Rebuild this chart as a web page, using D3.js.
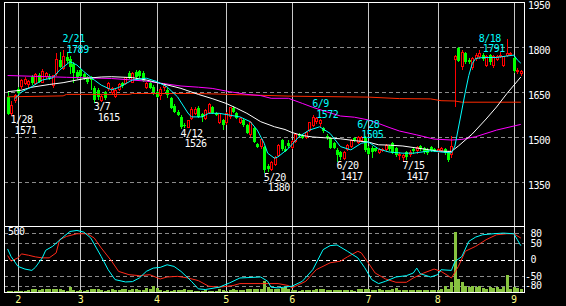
<!DOCTYPE html>
<html>
<head>
<meta charset="utf-8">
<script src="https://cdn.jsdelivr.net/npm/d3@7"></script>
<style>
body { margin: 0; background: #000; }
text { font-family: "DejaVu Sans Mono", monospace; font-size: 10px; letter-spacing: -0.5px; }
</style>
</head>
<body>
<div id="content"></div>
<script>
// daily candles [open, high, low, close], one per trading day
const ohlc = [
  [1634,1655,1575,1578],[1577,1620,1571,1604],[1622,1645,1615,1640],[1660,1668,1640,1648],[1668,1695,1660,1690],
  [1680,1700,1672,1693],[1675,1690,1665,1686],[1700,1708,1675,1680],[1678,1712,1672,1710],[1707,1712,1680,1684],
  [1683,1727,1680,1717],[1702,1718,1695,1713],[1703,1710,1690,1697],[1672,1708,1665,1706],[1713,1780,1705,1757],
  [1757,1784,1730,1734],[1730,1789,1725,1770],[1767,1785,1748,1752],[1760,1770,1710,1735],[1745,1750,1680,1715],
  [1718,1725,1695,1700],[1725,1730,1695,1705],[1710,1715,1690,1695],[1700,1705,1678,1685],[1700,1705,1657,1690],
  [1665,1670,1615,1622],[1657,1662,1625,1632],[1622,1640,1618,1635],[1650,1655,1625,1630],[1663,1683,1655,1680],
  [1650,1668,1640,1663],[1635,1660,1630,1655],[1660,1680,1655,1675],[1680,1685,1665,1670],[1680,1700,1675,1697],
  [1713,1720,1695,1698],[1683,1717,1680,1713],[1717,1722,1695,1700],[1720,1725,1698,1703],[1715,1720,1685,1688],
  [1665,1685,1660,1680],[1680,1685,1660,1665],[1668,1672,1640,1650],[1650,1655,1630,1635],[1640,1668,1622,1660],
  [1665,1680,1655,1673],[1657,1665,1630,1640],[1630,1635,1595,1598],[1605,1610,1580,1585],[1583,1590,1570,1573],
  [1568,1572,1526,1532],[1540,1548,1530,1536],[1533,1558,1530,1555],[1563,1600,1558,1592],[1580,1600,1575,1593],
  [1597,1605,1565,1567],[1577,1580,1550,1567],[1563,1592,1558,1587],[1583,1612,1578,1607],[1600,1605,1578,1580],
  [1580,1583,1570,1575],[1550,1580,1545,1577],[1557,1560,1523,1540],[1547,1585,1540,1580],[1567,1600,1560,1597],
  [1597,1605,1580,1585],[1580,1585,1560,1563],[1550,1568,1545,1563],[1557,1560,1535,1540],[1540,1545,1510,1513],
  [1507,1555,1500,1550],[1530,1535,1480,1483],[1477,1480,1462,1467],[1467,1497,1460,1493],[1467,1470,1380,1390],
  [1405,1410,1385,1395],[1392,1420,1388,1415],[1410,1437,1405,1433],[1440,1477,1435,1473],[1490,1495,1455,1460],
  [1460,1470,1450,1455],[1480,1490,1465,1470],[1465,1490,1460,1485],[1485,1515,1480,1510],[1510,1515,1500,1503],
  [1505,1510,1495,1498],[1500,1520,1495,1515],[1523,1550,1518,1547],[1540,1572,1535,1565],[1553,1568,1545,1563],
  [1545,1560,1535,1555],[1530,1535,1515,1520],[1505,1510,1490,1497],[1497,1500,1460,1463],[1480,1485,1460,1465],
  [1458,1462,1417,1440],[1450,1455,1425,1433],[1430,1455,1425,1450],[1460,1478,1455,1473],[1467,1495,1462,1490],
  [1497,1500,1485,1490],[1483,1505,1478,1500],[1490,1503,1485,1500],[1497,1502,1450,1457],[1465,1470,1440,1445],
  [1465,1470,1430,1450],[1462,1465,1450,1455],[1450,1465,1445,1460],[1455,1465,1450,1460],[1457,1477,1450,1473],
  [1470,1475,1455,1460],[1480,1485,1445,1447],[1463,1468,1435,1440],[1437,1450,1425,1443],[1432,1445,1417,1440],
  [1450,1455,1425,1433],[1443,1457,1435,1450],[1460,1465,1445,1455],[1455,1470,1445,1465],[1470,1475,1455,1460],
  [1462,1467,1445,1450],[1458,1462,1440,1447],[1467,1470,1450,1457],[1460,1463,1450,1455],[1452,1465,1448,1460],
  [1455,1468,1450,1462],[1460,1463,1440,1447],[1450,1455,1418,1422],[1442,1505,1430,1467],[1760,1775,1600,1770],
  [1797,1800,1750,1755],[1735,1790,1725,1783],[1780,1785,1745,1750],[1757,1762,1745,1750],[1733,1768,1725,1763],
  [1763,1780,1755,1773],[1767,1791,1760,1777],[1775,1780,1755,1760],[1740,1775,1735,1767],[1773,1778,1740,1750],
  [1737,1772,1730,1767],[1760,1775,1755,1767],[1767,1782,1762,1773],[1740,1770,1735,1767],[1773,1827,1768,1780],
  [1775,1785,1770,1780],[1763,1768,1715,1720],[1718,1730,1710,1723],[1713,1725,1705,1720]
]

const volume = [
  15,12,10,10,12,15,20,25,25,20,28,30,25,28,30,25,20,15,45,20,15,
  18,15,20,25,30,28,20,15,22,25,20,18,25,28,20,30,25,20,18,35,
  25,53,35,18,15,20,15,22,18,20,30,22,18,15,12,15,18,15,12,15,
  30,18,15,20,25,18,20,22,25,28,30,25,28,90,45,30,28,25,35,40,
  30,20,18,15,17,20,18,22,25,23,25,22,20,18,20,17,22,18,20,15,
  25,28,30,25,22,20,25,20,18,22,25,35,22,20,18,20,22,18,20,18,
  20,22,18,20,25,52,30,78,
  458,105,80,50,45,48,40,50,35,30,40,35,45,30,38,136,30,45,35,30
]

// moving averages, [day index, price]
const ma5 = [[2,1627],[4,1650],[7,1668],[10,1690],[13,1697],[15,1723],[18,1751],[20,1740],[22,1718],[25,1690],
  [27,1673],[30,1657],[32,1665],[36,1690],[40,1696],[43,1685],[46,1667],[49,1634],[52,1580],[53,1567],[56,1567],
  [58,1579],[61,1579],[64,1573],[67,1567],[70,1551],[72,1523],[74,1479],[75,1446],[77,1429],[78,1434],[81,1462],
  [84,1501],[87,1523],[90,1534],[93,1512],[96,1468],[99,1457],[102,1479],[104,1484],[107,1460],[110,1450],
  [114,1446],[117,1446],[122,1454],[125,1450],[128,1447],[129,1470],[130,1530],[131,1590],[132,1650],[133,1705],
  [134,1745],[135,1762],[137,1765],[141,1765],[144,1770],[146,1773],[147,1757],[148,1746]]
const ma25 = [[0,1651],[4,1656],[7,1666],[12,1675],[16,1681],[20,1690],[23,1696],[27,1700],[30,1701],[36,1698],
  [40,1690],[44,1679],[48,1668],[50,1662],[55,1642],[59,1628],[63,1612],[66,1596],[69,1579],[73,1551],[77,1534],
  [80,1525],[82,1515],[85,1505],[88,1500],[92,1497],[96,1494],[100,1488],[104,1483],[107,1474],[110,1473],
  [114,1470],[120,1460],[124,1453],[128,1452],[130,1470],[134,1510],[138,1560],[141,1600],[144,1645],[148,1700]]
const ma75 = [[0,1705],[17,1699],[30,1695],[36,1690],[40,1686],[45,1678],[50,1670],[55,1666],[59,1662],[64,1651],
  [69,1642],[73,1638],[76,1629],[81,1629],[85,1612],[88,1599],[92,1584],[96,1570],[100,1566],[104,1557],
  [107,1545],[110,1532],[113,1520],[118,1507],[123,1493],[128,1490],[131,1492],[135,1501],[141,1523],[148,1542]]
const ma200 = [[0,1634],[16,1637],[17,1642],[35,1642],[36,1645],[55,1645],[70,1640],[82,1636],[104,1633],
  [113,1628],[122,1627],[125,1621],[129,1620],[131,1616],[148,1616]]

// oscillator, [day index, value]
const oscK = [[0,32],[1,9],[3,-21],[5,-29],[7,-33],[8,-24],[10,5],[11,28],[13,40],[16,68],[18,85],[20,88],[22,83],
  [24,65],[27,9],[29,-31],[31,-61],[34,-68],[36,-67],[38,-56],[40,-36],[42,-26],[44,-24],[46,-16],[48,-21],
  [50,-36],[53,-66],[55,-89],[57,-91],[61,-84],[64,-71],[67,-56],[73,-53],[75,-66],[76,-84],[78,-86],[82,-81],
  [85,-66],[88,-31],[91,30],[93,42],[95,44],[98,25],[101,5],[103,-25],[105,-61],[107,-73],[109,-66],[112,-53],
  [115,-49],[117,-41],[118,-26],[119,-43],[122,-53],[124,-46],[125,-31],[128,-33],[129,-6],[131,9],[133,55],
  [135,68],[137,75],[140,78],[143,80],[146,78],[147,60],[148,42]]
const oscD = [[0,12],[1,-5],[3,5],[4,17],[6,13],[8,8],[10,5],[12,5],[14,20],[15,60],[17,70],[20,78],[23,78],
  [25,65],[27,35],[30,-5],[32,-36],[35,-46],[38,-49],[41,-46],[44,-59],[46,-53],[49,-51],[52,-56],[55,-64],
  [58,-81],[61,-84],[65,-79],[67,-73],[73,-73],[78,-73],[81,-79],[82,-86],[86,-66],[89,-31],[93,-10],[96,-5],
  [98,8],[101,25],[102,20],[104,-10],[106,-41],[109,-59],[112,-69],[115,-69],[117,-56],[120,-41],[123,-29],
  [125,-36],[127,-49],[128,-56],[130,-21],[132,25],[135,40],[138,60],[141,75],[144,78],[146,78],[148,65]]

const monthLabels = ["2","3","4","5","6","7","8","9"]
const monthStart = [3,21,43,63,82,104,124,146]
const priceTicks = [1950,1800,1650,1500,1350]
const oscTicks = [80,50,0,-50,-80]
const volMax = 500

// high / low notes
const notes = [
  {i: 1, v: 1571, d: "1/28", hi: false},
  {i: 16, v: 1789, d: "2/21", hi: true},
  {i: 25, v: 1615, d: "3/7", hi: false},
  {i: 50, v: 1526, d: "4/12", hi: false},
  {i: 74, v: 1380, d: "5/20", hi: false},
  {i: 88, v: 1572, d: "6/9", hi: true},
  {i: 95, v: 1417, d: "6/20", hi: false},
  {i: 101, v: 1505, d: "6/28", hi: true},
  {i: 114, v: 1417, d: "7/15", hi: false},
  {i: 136, v: 1791, d: "8/18", hi: true},
]

const W = 566, H = 306
const pLeft = 4, pRight = 524, pTop = 2, pMid = 226, pBottom = 292

const svg = d3.select("#content").append("svg")
    .attr("width", W)
    .attr("height", H)
    .style("display", "block")
    .style("background", "#000")

// scales
const x = d3.scaleLinear().domain([0, ohlc.length - 1]).range([7.6, 520.8])
const y = d3.scaleLinear().domain([1200, 1950]).range([pMid + 1, pTop])
const yOsc = d3.scaleLinear().domain([-100, 100]).range([pBottom + 0.5, pMid + 0.5])
const yVol = d3.scaleLinear().domain([0, volMax]).range([pBottom + 0.5, pMid + 0.5])
const px = v => Math.round(v) + 0.5

svg.append("clipPath").attr("id", "clipMain")
  .append("rect").attr("x", pLeft + 1).attr("y", pTop + 1).attr("width", pRight - pLeft - 1).attr("height", pMid - pTop - 1)
svg.append("clipPath").attr("id", "clipLow")
  .append("rect").attr("x", pLeft + 1).attr("y", pMid + 1).attr("width", pRight - pLeft - 1).attr("height", pBottom - pMid - 1)

// grid
const grid = svg.append("g").attr("shape-rendering", "crispEdges")
grid.selectAll(".hg").data(priceTicks.slice(1)).join("line")
    .attr("x1", pLeft).attr("x2", pRight)
    .attr("y1", d => px(y(d))).attr("y2", d => px(y(d)))
    .attr("stroke", "#8a8a8a").attr("stroke-dasharray", "4,3")
grid.selectAll(".og").data(oscTicks).join("line")
    .attr("x1", pLeft).attr("x2", pRight)
    .attr("y1", d => px(yOsc(d))).attr("y2", d => px(yOsc(d)))
    .attr("stroke", d => d === 0 ? "#fff" : "#8a8a8a")
    .attr("stroke-dasharray", "4,3")
grid.selectAll(".vg").data(monthStart).join("line")
    .attr("x1", d => px(x(d))).attr("x2", d => px(x(d)))
    .attr("y1", pTop).attr("y2", pBottom)
    .attr("stroke", "#c8c8c8")

// volume bars
svg.append("g").attr("clip-path", "url(#clipLow)").attr("shape-rendering", "crispEdges")
  .selectAll("rect").data(volume).join("rect")
    .attr("x", (d, i) => Math.round(x(i)) - 1)
    .attr("width", 3)
    .attr("y", d => yVol(d))
    .attr("height", d => yVol(0) - yVol(d))
    .attr("fill", "#88c440")

// candles
const cg = svg.append("g").attr("clip-path", "url(#clipMain)").attr("shape-rendering", "crispEdges")
const candle = cg.selectAll("g").data(ohlc).join("g")
candle.append("line")
    .attr("x1", (d, i) => px(x(i))).attr("x2", (d, i) => px(x(i)))
    .attr("y1", d => y(d[1])).attr("y2", d => y(d[2]))
    .attr("stroke", d => d[3] >= d[0] ? "#ff0000" : "#00ff00")
candle.append("rect")
    .attr("x", (d, i) => d[3] >= d[0] ? Math.round(x(i)) - 0.5 : Math.round(x(i)) - 1)
    .attr("width", d => d[3] >= d[0] ? 2 : 3)
    .attr("y", d => y(Math.max(d[0], d[3])))
    .attr("height", d => Math.max(1, Math.abs(y(d[0]) - y(d[3]))))
    .attr("fill", d => d[3] >= d[0] ? "#000" : "#00ff00")
    .attr("stroke", d => d[3] >= d[0] ? "#ff0000" : "none")

// moving averages
const line = d3.line().x(d => x(d[0])).y(d => y(d[1]))
const lines = svg.append("g").attr("clip-path", "url(#clipMain)").attr("fill", "none")
lines.append("path").datum(ma200).attr("d", line).attr("stroke", "#ff2a00")
lines.append("path").datum(ma75).attr("d", line).attr("stroke", "#ff00ff")
lines.append("path").datum(ma25).attr("d", line).attr("stroke", "#ffffff")
lines.append("path").datum(ma5).attr("d", line).attr("stroke", "#00ffff")

// oscillator
const oscLine = d3.line().x(d => x(d[0])).y(d => yOsc(d[1]))
const osc = svg.append("g").attr("clip-path", "url(#clipLow)").attr("fill", "none")
osc.append("path").datum(oscD).attr("d", oscLine).attr("stroke", "#ff2a1a")
osc.append("path").datum(oscK).attr("d", oscLine).attr("stroke", "#00ffff")

// frame
const frame = svg.append("g").attr("stroke", "#fff").attr("shape-rendering", "crispEdges")
frame.append("line").attr("x1", pLeft).attr("x2", pRight + 1).attr("y1", pTop + 0.5).attr("y2", pTop + 0.5)
frame.append("line").attr("x1", pLeft).attr("x2", pRight + 1).attr("y1", pMid + 0.5).attr("y2", pMid + 0.5)
frame.append("line").attr("x1", pLeft).attr("x2", pRight + 1).attr("y1", pBottom + 0.5).attr("y2", pBottom + 0.5)
frame.append("line").attr("x1", pLeft + 0.5).attr("x2", pLeft + 0.5).attr("y1", pTop).attr("y2", pBottom + 1)
frame.append("line").attr("x1", pRight + 0.5).attr("x2", pRight + 0.5).attr("y1", pTop).attr("y2", pBottom + 1)

// axis labels
svg.selectAll(".pt").data(priceTicks).join("text")
    .attr("x", 528).attr("y", d => Math.round(y(d)) + 7)
    .attr("fill", "#fff").text(d => d)
svg.selectAll(".ot").data(oscTicks).join("text")
    .attr("x", d => d < 0 ? 525 : 530.5).attr("y", d => yOsc(d) + 3.5)
    .attr("fill", "#fff").text(d => d)
svg.append("text").attr("x", 8).attr("y", 235).attr("fill", "#fff").text(volMax)
svg.selectAll(".ml").data(monthStart).join("text")
    .attr("x", d => x(d)).attr("y", 303)
    .attr("text-anchor", "middle")
    .attr("fill", "#ffff88")
    .text((d, k) => monthLabels[k])

// high / low notes, date above value
const note = svg.selectAll(".note").data(notes).join("g")
    .attr("fill", d => d.hi ? "#00ffff" : "#fff")
note.append("text")
    .attr("x", d => x(d.i) - 0.5)
    .attr("y", d => d.hi ? y(d.v) - 8 : y(d.v) + 7.5)
    .text(d => d.d)
note.append("text")
    .attr("x", d => x(d.i) + 3.5)
    .attr("y", d => d.hi ? y(d.v) + 2.5 : y(d.v) + 18)
    .text(d => d.v)
</script>
</body>
</html>
